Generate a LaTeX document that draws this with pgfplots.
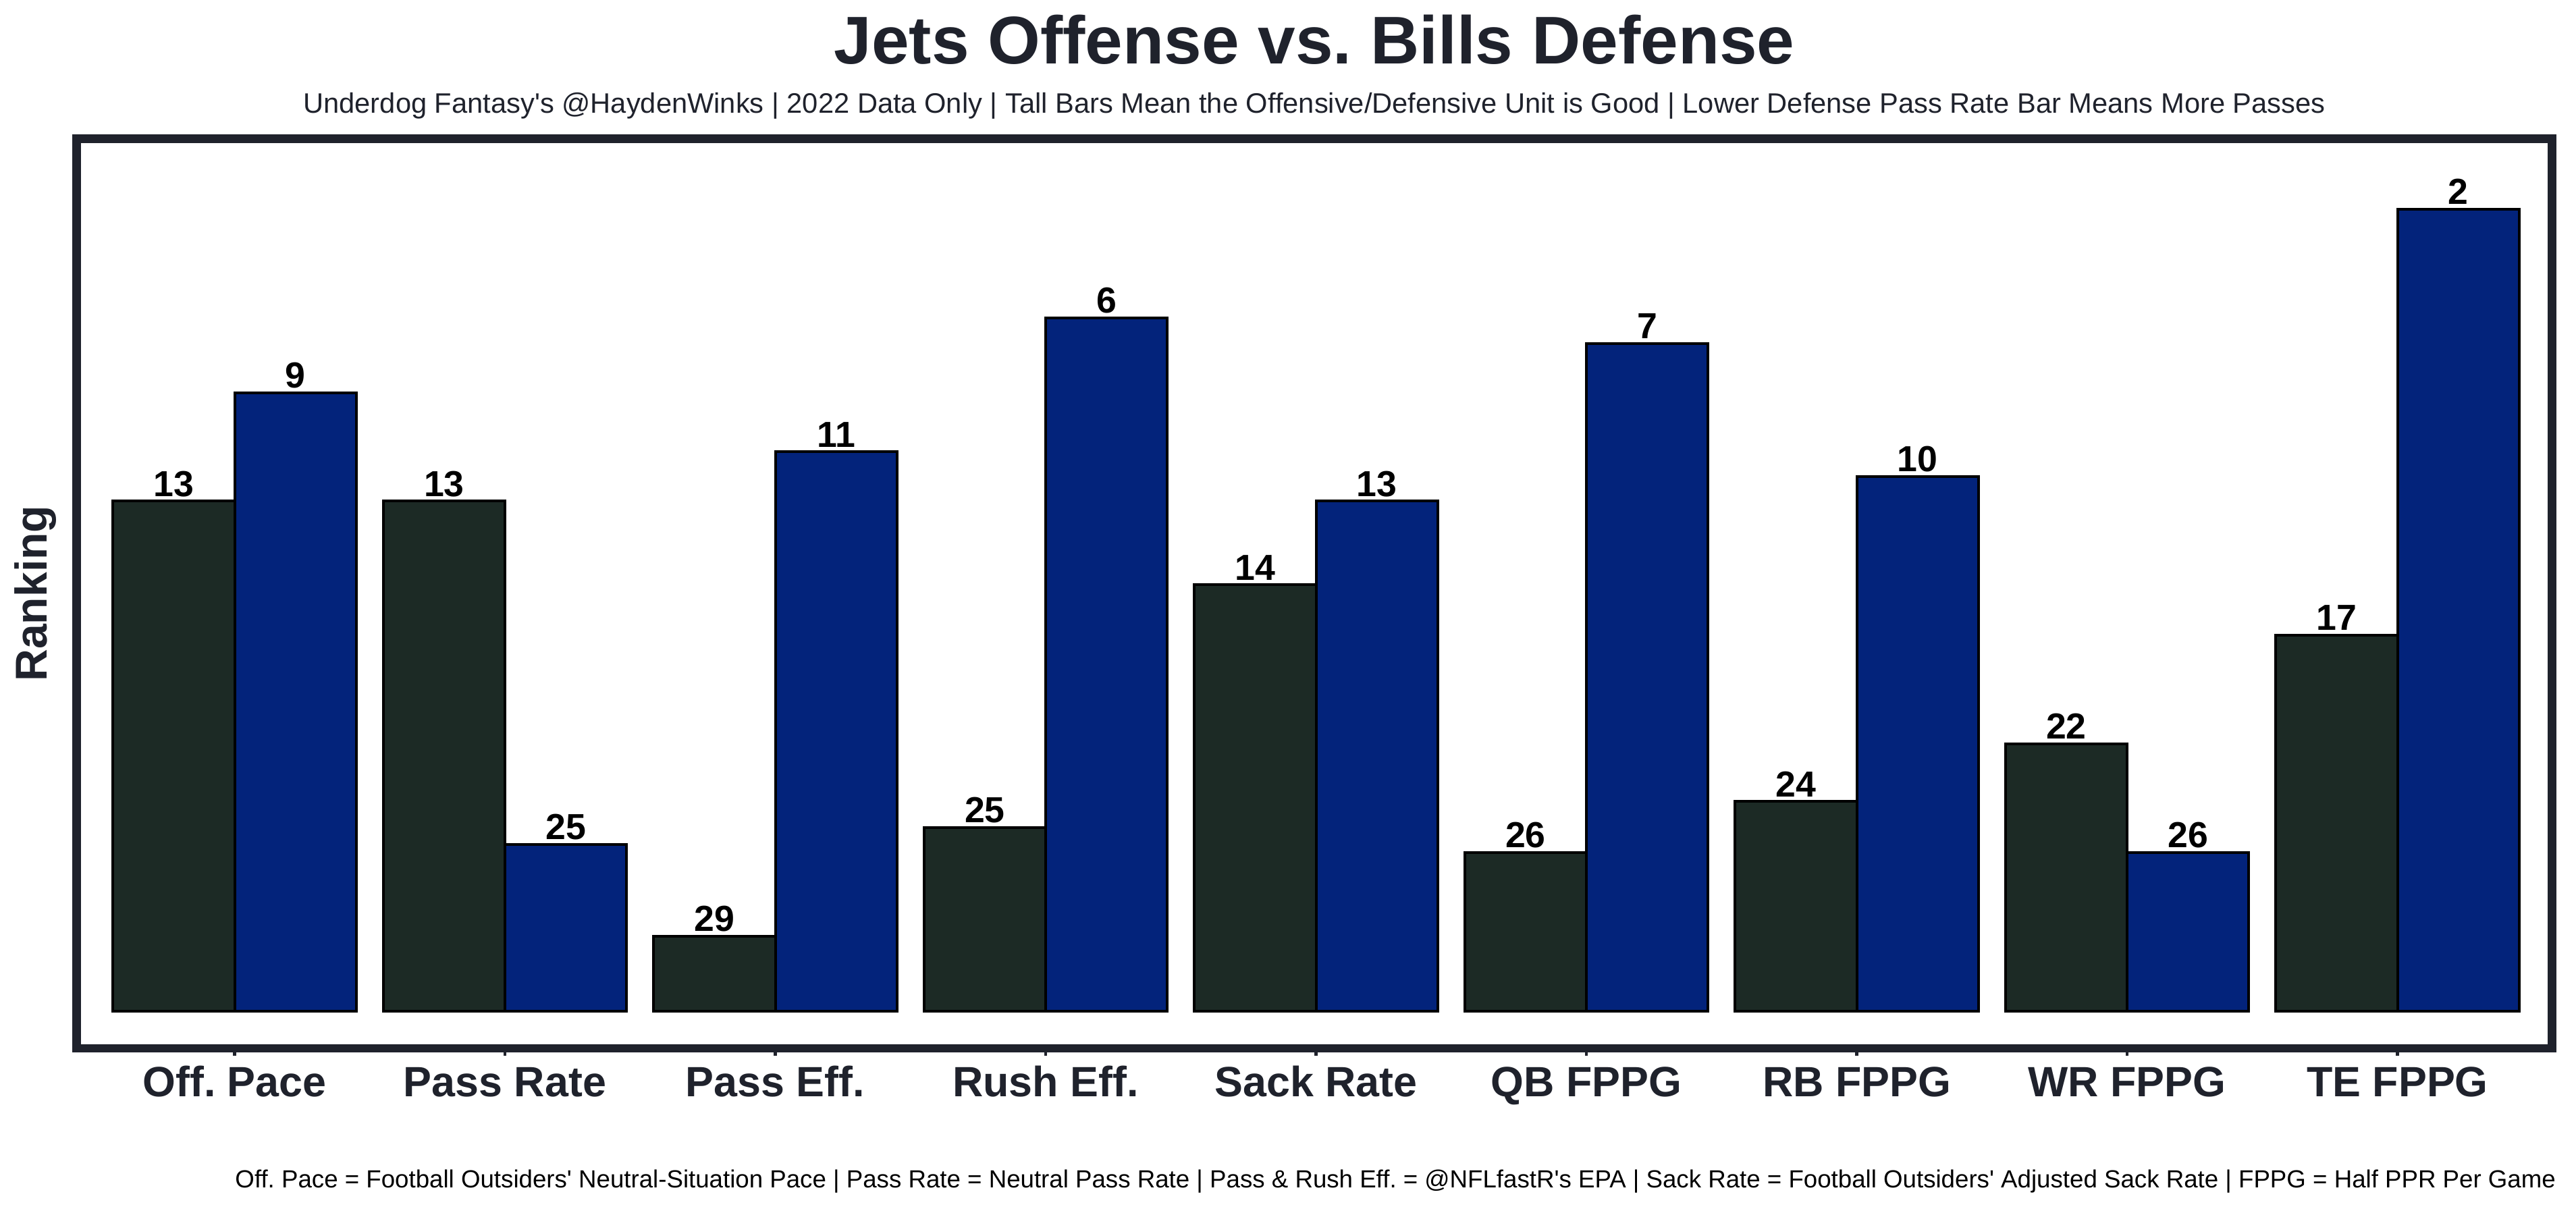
\documentclass[border=0pt]{standalone}
\usepackage{fontspec}
\setmainfont{Liberation Sans}[Ligatures=TeXOff]
\usepackage{pgfplots}
\usepackage{pgfplotstable}
\pgfplotsset{compat=1.18}
\definecolor{navyframe}{HTML}{1F222C}
\definecolor{jetgreen}{HTML}{1C2A25}
\definecolor{billsblue}{HTML}{03237B}
\frenchspacing

\pgfplotstableread{
x off offr def defr
0 310.5 13 376.5 9
1 310.5 13 101.5 25
2 45.6 29 340.5 11
3 111.8 25 422.0 6
4 259.5 14 310.5 13
5 96.5 26 406.5 7
6 127.5 24 325.5 10
7 162.7 22 96.5 26
8 228.9 17 488.1 2
}\datatable

\begin{document}
\frenchspacing
\begin{tikzpicture}
\useasboundingbox (0,0) rectangle (1373.76pt,644.76pt);
\begin{axis}[
  at={(40.9pt,85.76pt)}, anchor=south west,
  scale only axis, width=1320.1pt, height=485pt,
  xmin=-0.584, xmax=8.572, ymin=-22.6, ymax=531,
  axis line style={line width=4.5pt, color=navyframe},
  xtick={0,...,8},
  xticklabels={Off. Pace, Pass Rate, Pass Eff., Rush Eff., Sack Rate, QB FPPG, RB FPPG, WR FPPG, TE FPPG},
  ytick=\empty,
  xtick pos=bottom, tick align=outside, major tick length=4pt,
  x tick style={line width=1.5pt, color=navyframe},
  xticklabel style={font=\frenchspacing\fontsize{22.6}{26}\selectfont\bfseries, text=navyframe, anchor=base, yshift=-22pt},
  ylabel={Ranking},
  ylabel style={at={(axis description cs:-0.0119,0.5)}, anchor=base, font=\fontsize{23.8}{27}\selectfont\bfseries, text=navyframe},
  nodes near coords,
  point meta=explicit symbolic,
  every node near coord/.append style={anchor=base, yshift=2.5pt, inner sep=0pt, font=\fontsize{19.3}{22}\selectfont\bfseries, text=black},
]
\addplot[ybar, bar width=0.45, bar shift=0pt, fill=jetgreen, draw=black, line width=1.44pt]
  table[x expr=\thisrow{x}-0.225, y=off, meta=offr] {\datatable};
\addplot[ybar, bar width=0.45, bar shift=0pt, fill=billsblue, draw=black, line width=1.44pt]
  table[x expr=\thisrow{x}+0.225, y=def, meta=defr] {\datatable};
\end{axis}
\node[anchor=base, text=navyframe, font=\fontsize{36}{40}\selectfont\bfseries] at (700.95pt,610.8pt) {Jets Offense vs. Bills Defense};
\node[anchor=base, text=navyframe, font=\fontsize{15}{18}\selectfont] at (700.95pt,584.5pt) {Underdog Fantasy's @HaydenWinks | 2022 Data Only | Tall Bars Mean the Offensive/Defensive Unit is Good | Lower Defense Pass Rate Bar Means More Passes};
\node[anchor=base east, text=black, font=\frenchspacing\fontsize{13.2}{16}\selectfont] at (1366.5pt,11.2pt) {Off. Pace = Football Outsiders' Neutral-Situation Pace | Pass Rate = Neutral Pass Rate | Pass \& Rush Eff. = @NFLfastR's EPA | Sack Rate = Football Outsiders' Adjusted Sack Rate | FPPG = Half PPR Per Game};
\end{tikzpicture}
\end{document}
